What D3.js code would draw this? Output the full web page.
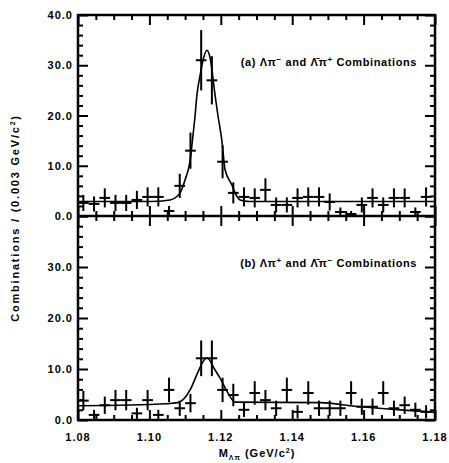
<!DOCTYPE html>
<html>
<head>
<meta charset="utf-8">
<script src="https://cdn.jsdelivr.net/npm/d3@7"></script>
<style>
  body { margin: 0; background: #fff; }
  svg text { font-family: "Liberation Sans", Arial, sans-serif; font-weight: bold; fill: #000; }
</style>
</head>
<body>
<svg id="chart"></svg>
<script>
// bin centres (GeV/c^2), bin width 0.003
var mass = [1.0815, 1.0845, 1.0875, 1.0905, 1.0935, 1.0965, 1.0995, 1.1025, 1.1055, 1.1085, 1.1115,
            1.1145, 1.1175, 1.1205, 1.1235, 1.1265, 1.1295, 1.1325, 1.1355, 1.1385, 1.1415, 1.1445,
            1.1475, 1.1505, 1.1535, 1.1565, 1.1595, 1.1625, 1.1655, 1.1685, 1.1715, 1.1745, 1.1775];

// (a) right sign combinations
var countsA = [2.6, 2.4, 3.6, 2.6, 2.6, 3.2, 3.8, 3.8, 1.0, 6.0, 13.0, 31.0, 27.0, 10.8, 4.6, 3.8, 3.6,
               5.2, 2.2, 2.2, 3.6, 3.8, 3.8, 2.8, 0.8, 0.4, 2.2, 3.6, 2.2, 3.6, 3.6, 0.8, 3.8];
var errA = [1.6, 1.5, 1.9, 1.6, 1.6, 1.8, 1.9, 1.9, 1.0, 2.4, 3.6, 6.0, 4.8, 3.3, 2.1, 1.9, 1.9,
            2.3, 1.5, 1.5, 1.9, 1.9, 1.9, 1.7, 0.9, 0.6, 1.5, 1.9, 1.5, 1.9, 1.9, 0.9, 1.9];
// fit curve (a)
var fitMassA = [1.080, 1.100, 1.1058, 1.1086, 1.1100, 1.1114, 1.1122, 1.1128, 1.1133, 1.1142, 1.1152,
                1.1161, 1.1170, 1.1184, 1.1192, 1.1203, 1.1212, 1.1231, 1.1240, 1.1254, 1.1280, 1.180];
var fitValA = [2.9, 2.9, 3.2, 4.6, 7.2, 11.0, 16.0, 20.0, 24.0, 28.0, 31.5,
               33.0, 31.5, 24.0, 20.0, 15.0, 9.2, 6.2, 4.6, 3.2, 2.9, 2.9];

// (b) wrong sign combinations
var countsB = [3.8, 1.0, 2.9, 3.9, 3.9, 1.3, 3.9, 1.0, 5.9, 2.3, 3.3, 12.1, 12.1, 5.9, 4.9, 2.0, 5.3,
               3.9, 2.3, 5.9, 1.6, 5.3, 2.3, 2.3, 2.3, 5.3, 2.6, 2.6, 5.3, 2.3, 2.9, 2.0, 1.6];
var errB = [1.9, 1.0, 1.7, 2.0, 2.0, 1.1, 2.0, 1.0, 2.4, 1.5, 1.8, 3.5, 3.5, 2.4, 2.2, 1.4, 2.3,
            2.0, 1.5, 2.4, 1.3, 2.3, 1.5, 1.5, 1.5, 2.3, 1.6, 1.6, 2.3, 1.5, 1.7, 1.4, 1.3];
var fitMassB = [1.080, 1.105, 1.1080, 1.1114, 1.1136, 1.1150, 1.1161, 1.1184, 1.1198, 1.1220, 1.1240,
                1.1480, 1.1576, 1.1660, 1.1764, 1.180];
var fitValB = [2.8, 3.2, 3.4, 5.9, 9.4, 11.4, 12.2, 9.8, 8.2, 5.3, 3.5,
               3.4, 2.7, 2.2, 1.7, 1.5];

// ticks
var xMajor = [1.08, 1.10, 1.12, 1.14, 1.16, 1.18];
var xMinor = [1.085, 1.09, 1.095, 1.105, 1.11, 1.115, 1.125, 1.13, 1.135, 1.145, 1.15, 1.155,
              1.165, 1.17, 1.175];
var yMajor = [0, 10, 20, 30, 40];
var yMinor = [2, 4, 6, 8, 12, 14, 16, 18, 22, 24, 26, 28, 32, 34, 36, 38];

var labelA = ["(a) Λπ", "−", " and Λ̄π", "+", " Combinations"];
var labelB = ["(b) Λπ", "+", " and Λ̄π", "−", " Combinations"];

var svgWidth = 449, svgHeight = 463;
var plotL = 78, plotR = 435, plotT = 15, plotM = 216, plotB = 420;

var svg = d3.select("#chart")
    .attr("width", svgWidth)
    .attr("height", svgHeight);

var x = d3.scaleLinear().domain([1.08, 1.18]).range([plotL, plotR]);
var yA = d3.scaleLinear().domain([0, 40]).range([plotM, plotT]);
var yB = d3.scaleLinear().domain([0, 40]).range([plotB, plotM]);

var fmtY = d3.format(".1f");
var fmtX = d3.format(".2f");

function addAxis(axis, tx, ty, size, values, fmt) {
    var g = svg.append("g")
        .attr("transform", "translate(" + tx + "," + ty + ")")
        .call(axis.tickValues(values).tickSize(size).tickPadding(5).tickFormat(fmt || ""));
    g.select(".domain").remove();
    g.selectAll("line").attr("stroke", "#000").attr("stroke-width", 2);
    g.selectAll("text").attr("font-size", 11).attr("letter-spacing", 1)
        .attr("font-family", "Liberation Sans, Arial, sans-serif").attr("font-weight", "bold");
    return g;
}

function panel(y, counts, err, fitM, fitV, label, labelY, showTop) {
    // y axes, ticks on both sides
    addAxis(d3.axisLeft(y), plotL, 0, -10, yMajor, function(d) {
        return (d === 40 && !showTop) ? "" : fmtY(d);
    });
    addAxis(d3.axisLeft(y), plotL, 0, -5, yMinor);
    addAxis(d3.axisRight(y), plotR, 0, -10, yMajor);
    addAxis(d3.axisRight(y), plotR, 0, -5, yMinor);

    // x ticks on top and bottom edges of panel
    addAxis(d3.axisTop(x), 0, y(40), -10, xMajor);
    addAxis(d3.axisTop(x), 0, y(40), -5, xMinor);
    addAxis(d3.axisBottom(x), 0, y(0), -10, xMajor);
    addAxis(d3.axisBottom(x), 0, y(0), -5, xMinor);

    var pts = mass.map(function(m, i) { return { m: m, v: counts[i], e: err[i] }; });

    var g = svg.append("g");
    // horizontal bars (bin width)
    g.selectAll(".hbar")
        .data(pts)
        .enter()
        .append("line")
        .attr("x1", function(d) { return x(d.m - 0.0015); })
        .attr("x2", function(d) { return x(d.m + 0.0015); })
        .attr("y1", function(d) { return y(d.v); })
        .attr("y2", function(d) { return y(d.v); })
        .attr("stroke", "#000")
        .attr("stroke-width", 2);
    // vertical error bars
    g.selectAll(".vbar")
        .data(pts)
        .enter()
        .append("line")
        .attr("x1", function(d) { return x(d.m); })
        .attr("x2", function(d) { return x(d.m); })
        .attr("y1", function(d) { return y(Math.max(0, d.v - d.e)); })
        .attr("y2", function(d) { return y(d.v + d.e); })
        .attr("stroke", "#000")
        .attr("stroke-width", 2);

    // fit curve
    var line = d3.line()
        .x(function(d) { return x(d[0]); })
        .y(function(d) { return y(d[1]); })
        .curve(d3.curveMonotoneX);
    svg.append("path")
        .datum(fitM.map(function(m, i) { return [m, fitV[i]]; }))
        .attr("fill", "none")
        .attr("stroke", "#000")
        .attr("stroke-width", 1.6)
        .attr("d", line);

    // panel label
    var t = svg.append("text")
        .attr("x", 417)
        .attr("y", labelY)
        .attr("text-anchor", "end")
        .attr("font-size", 11)
        .attr("letter-spacing", 0.6);
    label.forEach(function(s, i) {
        var ts = t.append("tspan").text(s);
        if (i === 1 || i === 3) ts.attr("font-size", 8).attr("dy", -4);
        if (i === 2 || i === 4) ts.attr("dy", 4);
    });
}

panel(yA, countsA, errA, fitMassA, fitValA, labelA, 66, true);
panel(yB, countsB, errB, fitMassB, fitValB, labelB, 267, false);

// frames
svg.append("rect")
    .attr("x", plotL).attr("y", plotT)
    .attr("width", plotR - plotL).attr("height", plotB - plotT)
    .attr("fill", "none").attr("stroke", "#000").attr("stroke-width", 2.5);
svg.append("line")
    .attr("x1", plotL).attr("x2", plotR).attr("y1", plotM).attr("y2", plotM)
    .attr("stroke", "#000").attr("stroke-width", 2.5);

// x tick labels
svg.append("g")
    .selectAll("text")
    .data(xMajor)
    .enter()
    .append("text")
    .attr("x", function(d) { return x(d); })
    .attr("y", 441)
    .attr("text-anchor", "middle")
    .attr("font-size", 11)
    .attr("letter-spacing", 1)
    .text(function(d) { return fmtX(d); });

// axis titles
var xt = svg.append("text")
    .attr("x", 257)
    .attr("y", 457)
    .attr("text-anchor", "middle")
    .attr("font-size", 11)
    .attr("letter-spacing", 1);
xt.append("tspan").text("M");
xt.append("tspan").attr("font-size", 7).attr("dy", 3).text("Λπ");
xt.append("tspan").attr("dy", -3).text(" (GeV/c");
xt.append("tspan").attr("font-size", 7).attr("dy", -4).text("2");
xt.append("tspan").attr("dy", 4).text(")");

var yt = svg.append("text")
    .attr("transform", "translate(19,218) rotate(-90)")
    .attr("text-anchor", "middle")
    .attr("font-size", 11)
    .attr("letter-spacing", 1.8);
yt.append("tspan").text("Combinations / (0.003 GeV/c");
yt.append("tspan").attr("font-size", 7).attr("dy", -4).text("2");
yt.append("tspan").attr("dy", 4).text(")");
</script>
</body>
</html>
